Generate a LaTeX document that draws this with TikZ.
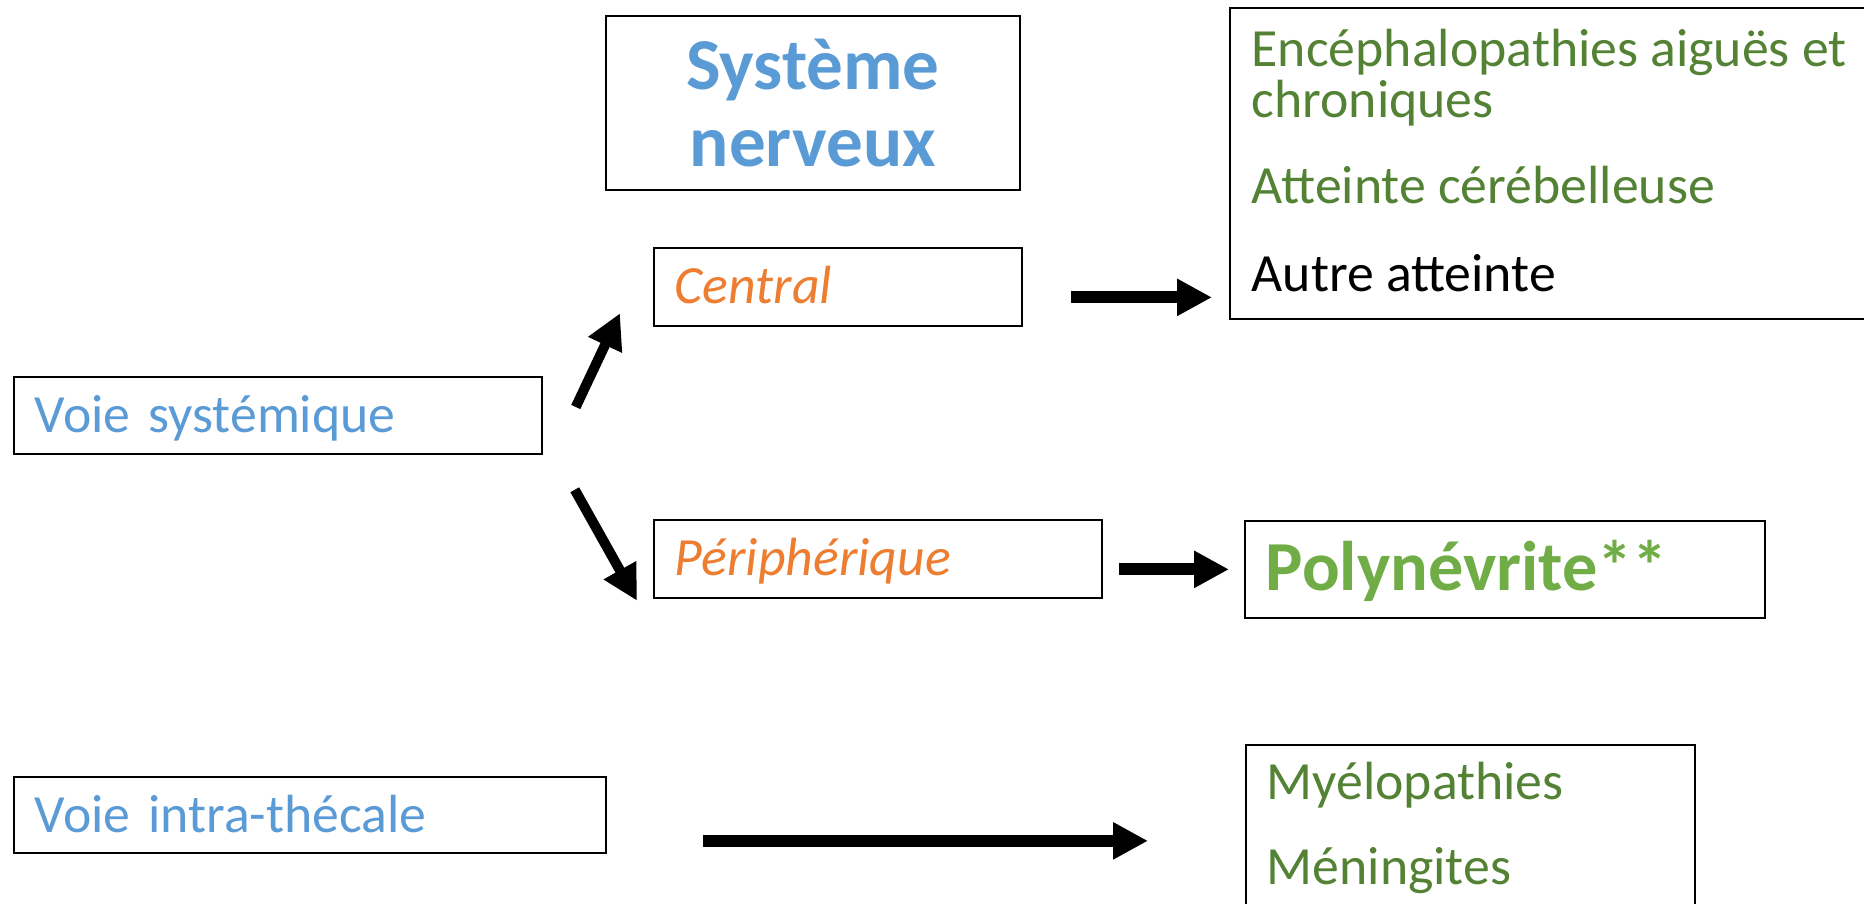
\documentclass[tikz,border=0pt]{standalone}
\usepackage{fontspec}
\setmainfont{Carlito}
\usetikzlibrary{arrows.meta}

\definecolor{bleu}{RGB}{91,155,213}
\definecolor{orangeppt}{RGB}{237,125,49}
\definecolor{vertfonce}{RGB}{84,130,53}
\definecolor{vertclair}{RGB}{112,173,71}

\tikzset{
    boite/.style={draw, line width=0.5pt, anchor=north west, inner ysep=0pt, inner xsep=0.21cm, align=left},
    texte/.style={font=\fontsize{15.3}{18}\selectfont},
    penche/.style={font=\fontsize{15.3}{18}\selectfont\itshape},
    gras/.style={font=\fontsize{20.8}{21.9}\selectfont\bfseries},
    ligne/.style={texte, anchor=base west, inner sep=0pt},
    fleche/.style={line width=0.12cm, -{Triangle[length=0.35cm, width=0.35cm]}},
}

\begin{document}
\begin{tikzpicture}
    \useasboundingbox (0,0) rectangle (18.64,9.04);
    \clip (0,0) rectangle (18.64,9.04);

    % titre
    \node[boite, gras, text=bleu, align=center, text width=3.72cm, minimum height=1.74cm] (systeme) at (6.05,8.89) {Système\\nerveux};

    % voies
    \node[boite, texte, text=bleu, text width=4.86cm, text height=0.56cm, text depth=0.21cm] (voiesys) at (0.13,5.28) {Voie systémique};
    \node[boite, texte, text=bleu, text width=5.50cm, text height=0.56cm, text depth=0.20cm] (intra) at (0.13,1.28) {Voie intra-thécale};

    % central / peripherique
    \node[boite, penche, text=orangeppt, text width=3.26cm, text height=0.55cm, text depth=0.23cm] (central) at (6.53,6.565) {Central};
    \node[boite, penche, text=orangeppt, text width=4.06cm, text height=0.555cm, text depth=0.225cm] (peri) at (6.53,3.845) {Périphérique};

    % atteintes
    \node[boite, minimum width=6.60cm, minimum height=3.11cm] (enceph) at (12.29,8.97) {};
    \node[ligne, text=vertfonce] (enc1) at ([shift={(0.22,-0.60)}]enceph.north west) {Encéphalopathies aiguës et};
    \node[ligne, text=vertfonce] (enc2) at ([shift={(0.22,-1.11)}]enceph.north west) {chroniques};
    \node[ligne, text=vertfonce] (enc3) at ([shift={(0.22,-1.97)}]enceph.north west) {Atteinte cérébelleuse};
    \node[ligne, text=black] (enc4) at ([shift={(0.22,-2.85)}]enceph.north west) {Autre atteinte};

    \node[boite, font=\fontsize{20}{22}\selectfont\bfseries, text=vertclair, text width=4.78cm, text height=0.70cm, text depth=0.27cm] (poly) at (12.44,3.84) {Polynévrite**};

    \node[boite, minimum width=4.49cm, minimum height=1.80cm] (myelo) at (12.45,1.60) {};
    \node[ligne, text=vertfonce] (mye1) at ([shift={(0.21,-0.56)}]myelo.north west) {Myélopathies};
    \node[ligne, text=vertfonce] (mye2) at ([shift={(0.21,-1.41)}]myelo.north west) {Méningites};

    % fleches
    \draw[fleche, line width=0.10cm] ([shift={(0.33,-0.31)}]voiesys.north east) -- ([shift={(-0.33,0.14)}]central.south west);
    \draw[fleche, line width=0.10cm] ([shift={(0.32,-0.35)}]voiesys.south east) -- ([shift={(-0.16,-0.015)}]peri.south west);
    \draw[fleche, shorten <=0.48cm, shorten >=0.17cm] ([yshift=-0.1cm]central.east) -- ([yshift=-0.1cm]central.east -| enceph.west);
    \draw[fleche, shorten <=0.16cm, shorten >=0.15cm] (peri.east |- poly.west) -- (poly.west);
    \draw[fleche, shorten <=0.96cm, shorten >=0.97cm] ([yshift=-0.26cm]intra.east) -- ([yshift=-0.26cm]intra.east -| myelo.west);
\end{tikzpicture}
\end{document}
